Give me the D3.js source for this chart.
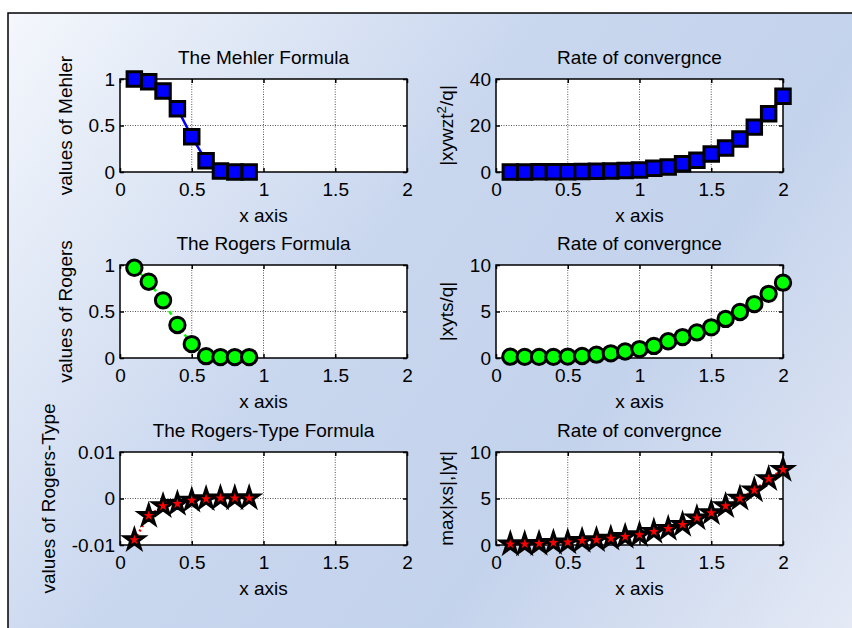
<!DOCTYPE html>
<html>
<head>
<meta charset="utf-8">
<script src="https://cdn.jsdelivr.net/npm/d3@7"></script>
<style>
body { margin: 0; background: #fff; }
text { font-family: "Liberation Sans", Arial, sans-serif; fill: #000; }
</style>
</head>
<body>
<div id="plot"></div>
<script>
const PLOT_WIDTH = 852;
const PLOT_HEIGHT = 628;
const FONT = 19;

// x values of the left and right columns
const xLeft = [0.1, 0.2, 0.3, 0.4, 0.5, 0.6, 0.7, 0.8, 0.9];
const xRight = [0.1, 0.2, 0.3, 0.4, 0.5, 0.6, 0.7, 0.8, 0.9, 1.0,
                1.1, 1.2, 1.3, 1.4, 1.5, 1.6, 1.7, 1.8, 1.9, 2.0];

const mehler = [1.0, 0.97, 0.87, 0.68, 0.38, 0.12, 0.01, 0.0, 0.0];
const mehlerRate = [0.05, 0.05, 0.1, 0.1, 0.15, 0.2, 0.3, 0.4, 0.6, 0.9,
                    1.6, 2.2, 3.6, 5.1, 7.7, 10.3, 14.2, 19.3, 25.1, 32.6];

const rogers = [0.97, 0.82, 0.62, 0.355, 0.15, 0.02, 0.01, 0.01, 0.01];
const rogersRate = [0.14, 0.12, 0.12, 0.12, 0.15, 0.22, 0.36, 0.5, 0.7, 0.96,
                    1.3, 1.8, 2.25, 2.75, 3.3, 4.2, 4.95, 5.8, 6.9, 8.1];

const rogersType = [-0.0089, -0.0037, -0.0016, -0.0011, -0.0004, -0.0001, 0.0001, 0.0001, 0.0001];
const rogersTypeRate = [0.1, 0.1, 0.15, 0.25, 0.3, 0.47, 0.55, 0.7, 0.9, 1.1,
                        1.45, 1.75, 2.2, 2.9, 3.45, 4.2, 5.0, 5.9, 7.1, 8.1];

const xTicks = [0, 0.5, 1, 1.5, 2];
const ticksUnit = [0, 0.5, 1];
const ticks40 = [0, 20, 40];
const ticks10 = [0, 5, 10];
const ticksSmall = [-0.01, 0, 0.01];

const COLS = [120, 496];
const ROWS = [79, 265, 452];
const AX_W = 287;
const AX_H = 93;

var svg = d3.select('#plot')
    .append('svg')
    .attr('width', PLOT_WIDTH)
    .attr('height', PLOT_HEIGHT);

var grad = svg.append('defs')
    .append('linearGradient')
    .attr('id', 'bg')
    .attr('gradientUnits', 'userSpaceOnUse')
    .attr('x1', 8).attr('y1', 13)
    .attr('x2', PLOT_WIDTH).attr('y2', PLOT_HEIGHT);
[[0, '#f4f7fc'], [0.42, '#c8d6ee'], [0.68, '#c4d3ec'], [1, '#e4e9f5']].forEach(s => {
    grad.append('stop').attr('offset', s[0]).attr('stop-color', s[1]);
});

svg.append('rect')
    .attr('x', 8).attr('y', 13)
    .attr('width', PLOT_WIDTH - 8).attr('height', PLOT_HEIGHT - 13)
    .attr('fill', 'url(#bg)');
svg.append('path')
    .attr('d', `M8,${PLOT_HEIGHT} V13 H${PLOT_WIDTH}`)
    .attr('fill', 'none')
    .attr('stroke', '#000')
    .attr('stroke-width', 1.5);


function marker(kind) {
    if (kind == 'square') return d3.symbol(d3.symbolSquare, 210)();
    if (kind == 'circle') return d3.symbol(d3.symbolCircle, 185)();
    return d3.symbol(d3.symbolStar, 115)();
}


function panel(p) {
    let g = svg.append('g').attr('transform', `translate(${p.left},${p.top})`);

    let x = d3.scaleLinear().domain([0, 2]).range([0, AX_W]);
    let y = d3.scaleLinear().domain(p.yDomain).range([AX_H, 0]);

    g.append('rect')
        .attr('width', AX_W)
        .attr('height', AX_H)
        .attr('fill', '#fff');

    // dotted grid
    g.selectAll('.gx')
        .data(xTicks.slice(1, -1))
        .enter()
        .append('line')
        .attr('x1', d => x(d)).attr('x2', d => x(d))
        .attr('y1', 0).attr('y2', AX_H);
    g.selectAll('.gy')
        .data(p.yTicks.slice(1, -1))
        .enter()
        .append('line')
        .attr('y1', d => y(d)).attr('y2', d => y(d))
        .attr('x1', 0).attr('x2', AX_W);
    g.selectAll('line')
        .attr('stroke', '#555')
        .attr('stroke-width', 1)
        .attr('stroke-dasharray', '1,1.5');

    g.append('g')
        .attr('transform', `translate(0,${AX_H})`)
        .call(d3.axisBottom(x).tickValues(xTicks).tickSize(-4).tickPadding(11).tickFormat(d => String(d)));
    g.append('g')
        .call(d3.axisTop(x).tickValues(xTicks).tickSize(-4).tickFormat(''));
    let yl = g.append('g')
        .call(d3.axisLeft(y).tickValues(p.yTicks).tickSize(-4).tickPadding(5).tickFormat(d => String(d)));
    g.append('g')
        .attr('transform', `translate(${AX_W},0)`)
        .call(d3.axisRight(y).tickValues(p.yTicks).tickSize(-4).tickFormat(''));

    g.selectAll('.domain').remove();
    g.selectAll('.tick line').attr('stroke', '#000').attr('stroke-width', 1.5);
    g.selectAll('.tick text')
        .attr('font-size', FONT)
        .attr('font-family', '"Liberation Sans", Arial, sans-serif')
        .attr('fill', '#000');

    g.append('rect')
        .attr('width', AX_W)
        .attr('height', AX_H)
        .attr('fill', 'none')
        .attr('stroke', '#000')
        .attr('stroke-width', 1.5);

    let pts = p.xs.map((d, i) => [d, p.ys[i]]);

    g.append('path')
        .datum(pts)
        .attr('d', d3.line().x(d => x(d[0])).y(d => y(d[1])))
        .attr('fill', 'none')
        .attr('stroke', p.lineColor)
        .attr('stroke-width', 2.5)
        .attr('stroke-dasharray', p.dash);

    g.selectAll('.mk')
        .data(pts)
        .enter()
        .append('path')
        .attr('transform', d => `translate(${x(d[0])},${y(d[1])})`)
        .attr('d', marker(p.marker))
        .attr('fill', p.fill)
        .attr('stroke', '#000')
        .attr('stroke-width', 3)
        .attr('stroke-linejoin', 'miter');

    g.append('text')
        .attr('x', AX_W / 2)
        .attr('y', -15.5)
        .attr('text-anchor', 'middle')
        .attr('font-size', FONT)
        .text(p.title);

    g.append('text')
        .attr('x', AX_W / 2)
        .attr('y', AX_H + 50)
        .attr('text-anchor', 'middle')
        .attr('font-size', FONT)
        .text('x axis');

    // y label sits left of the widest tick label
    let bb = yl.node().getBBox();
    let lab = g.append('text')
        .attr('transform', `translate(${bb.x - 17},${AX_H / 2}) rotate(-90)`)
        .attr('text-anchor', 'middle')
        .attr('font-size', FONT);
    p.ylabel.forEach(part => {
        let t = lab.append('tspan').text(part[0]);
        if (part[1]) t.attr('baseline-shift', 'super').attr('font-size', FONT * 0.7);
    });
}


panel({
    left: COLS[0], top: ROWS[0], title: 'The Mehler Formula',
    ylabel: [['values of Mehler']],
    xs: xLeft, ys: mehler, yDomain: [0, 1], yTicks: ticksUnit,
    marker: 'square', fill: '#0000ff', lineColor: '#0000ff', dash: null
});
panel({
    left: COLS[1], top: ROWS[0], title: 'Rate of convergnce',
    ylabel: [['|xywzt'], ['2', true], ['/q|']],
    xs: xRight, ys: mehlerRate, yDomain: [0, 40], yTicks: ticks40,
    marker: 'square', fill: '#0000ff', lineColor: '#0000ff', dash: null
});
panel({
    left: COLS[0], top: ROWS[1], title: 'The Rogers Formula',
    ylabel: [['values of Rogers']],
    xs: xLeft, ys: rogers, yDomain: [0, 1], yTicks: ticksUnit,
    marker: 'circle', fill: '#00ff00', lineColor: '#00ff00', dash: '4,3'
});
panel({
    left: COLS[1], top: ROWS[1], title: 'Rate of convergnce',
    ylabel: [['|xyts/q|']],
    xs: xRight, ys: rogersRate, yDomain: [0, 10], yTicks: ticks10,
    marker: 'circle', fill: '#00ff00', lineColor: '#00ff00', dash: '4,3'
});
panel({
    left: COLS[0], top: ROWS[2], title: 'The Rogers-Type Formula',
    ylabel: [['values of Rogers-Type']],
    xs: xLeft, ys: rogersType, yDomain: [-0.01, 0.01], yTicks: ticksSmall,
    marker: 'star', fill: '#ff0000', lineColor: '#ff0000', dash: '2,3'
});
panel({
    left: COLS[1], top: ROWS[2], title: 'Rate of convergnce',
    ylabel: [['max|xs|,|yt|']],
    xs: xRight, ys: rogersTypeRate, yDomain: [0, 10], yTicks: ticks10,
    marker: 'star', fill: '#ff0000', lineColor: '#ff0000', dash: '2,3'
});
</script>
</body>
</html>
